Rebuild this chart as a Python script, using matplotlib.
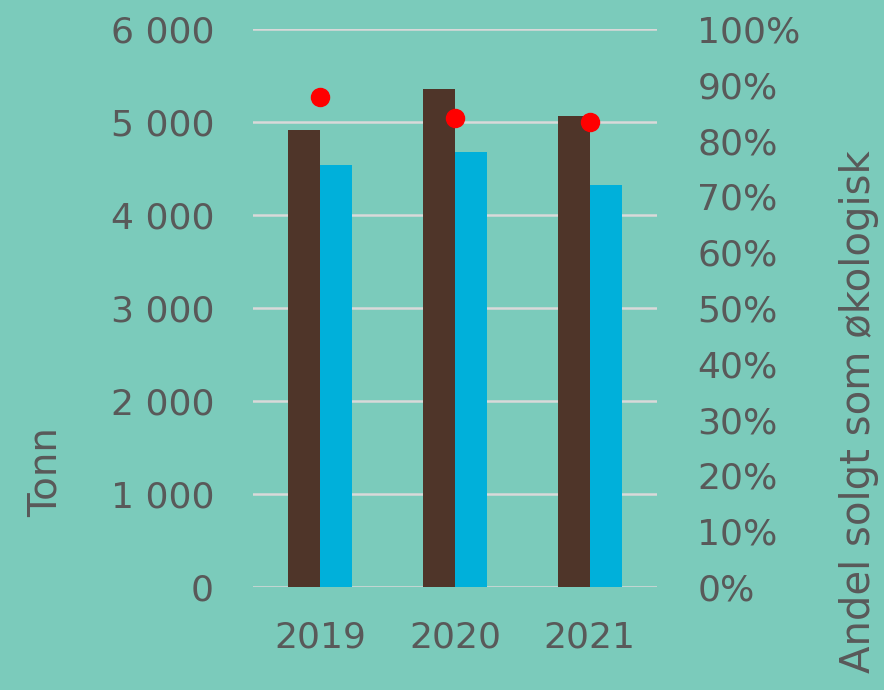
import matplotlib.pyplot as plt
import numpy as np
from matplotlib.ticker import FuncFormatter

years = ['2019', '2020', '2021']
tonn_total = [4910, 5355, 5065]
tonn_oko = [4540, 4680, 4320]
andel_oko = [0.878, 0.840, 0.833]

bg = '#7bcbbb'
txt = '#595959'
plt.rcParams['font.family'] = ['DejaVu Sans']

fig = plt.figure(figsize=(8.84, 6.90), dpi=100, facecolor=bg)
ax = fig.add_axes([253 / 884, 1 - 587 / 690, 404 / 884, 558 / 690])
ax.set_facecolor(bg)

x = np.arange(len(years))
w = 0.238
ax.bar(x - w / 2, tonn_total, w, color='#4f3529', zorder=3)
ax.bar(x + w / 2, tonn_oko, w, color='#00b0da', zorder=3)

ax.set_xlim(-0.5, 2.5)
ax.set_ylim(0, 6000)
ax.set_yticks(range(0, 6001, 1000))
ax.yaxis.set_major_formatter(FuncFormatter(lambda v, p: f'{int(v):,}'.replace(',', ' ')))
ax.set_xticks(x)
ax.set_xticklabels(years)
ax.grid(axis='y', color='#d9d9d9', linewidth=1.8, zorder=0)
ax.tick_params(axis='both', length=0, labelsize=26, labelcolor=txt)
ax.tick_params(axis='y', pad=28)
ax.tick_params(axis='x', pad=24)
for s in ax.spines.values():
    s.set_visible(False)

ax2 = ax.twinx()
ax2.plot(x, andel_oko, 'o', color='#ff0000', markersize=13, zorder=5)
ax2.set_ylim(0, 1)
ax2.set_yticks(np.linspace(0, 1, 11))
ax2.yaxis.set_major_formatter(FuncFormatter(lambda v, p: f'{v * 100:.0f}%'))
ax2.tick_params(axis='y', length=0, labelsize=26, labelcolor=txt, pad=29)
for s in ax2.spines.values():
    s.set_visible(False)

fig.text(46 / 884, 1 - 472 / 690, 'Tonn', rotation=90, fontsize=28, color=txt,
         ha='center', va='center')
fig.text(859 / 884, 1 - 412 / 690, 'Andel solgt som økologisk', rotation=90,
         fontsize=29, color=txt, ha='center', va='center')

fig.savefig('out.png', dpi=100, facecolor=bg)
